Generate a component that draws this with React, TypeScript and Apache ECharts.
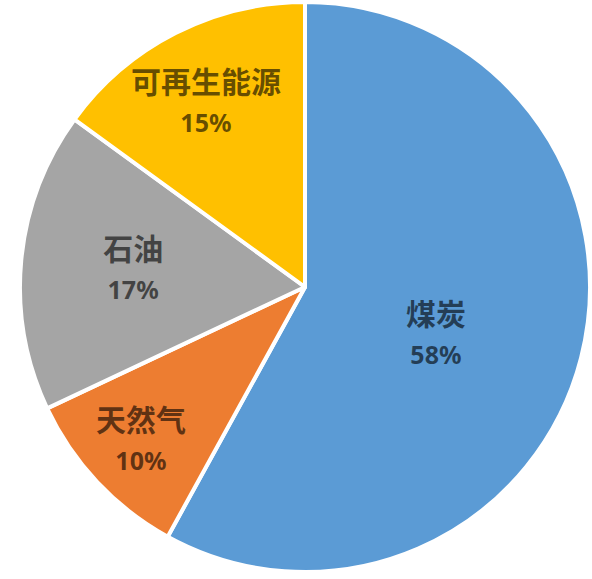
import React, { useEffect, useRef } from "react";
import * as echarts from "echarts";

// energy mix, clockwise from 12 o'clock
const names = ["煤炭", "天然气", "石油", "可再生能源"];
const shares = [58, 10, 17, 15];
const colors = ["#5B9BD5", "#ED7D31", "#A5A5A5", "#FFC000"];

// nudges from ECharts' default "inside" label spot, per slice
const labelNudge = [
    [-10, 10],
    [-58, 52],
    [-27, -5],
    [-33, -56],
];

const App: React.FC = () => {
    const ref = useRef<HTMLDivElement | null>(null);

    useEffect(() => {
        if (!ref.current) return;
        const inst = echarts.init(ref.current, undefined, { renderer: "svg" });

        inst.setOption({
            animation: false,
            backgroundColor: "#ffffff",
            series: [
                {
                    type: "pie",
                    center: [305, 287],
                    radius: [0, 285],
                    startAngle: 90,
                    clockwise: true,
                    avoidLabelOverlap: false,
                    itemStyle: { borderColor: "#ffffff", borderWidth: 4 },
                    label: {
                        show: true,
                        position: "inside",
                        formatter: "{n|{b}}\n{v|{c}%}",
                        rich: {
                            n: {
                                fontFamily: "Noto Sans CJK SC",
                                fontSize: 30,
                                fontWeight: "bold",
                                color: "rgba(0,0,0,0.6)",
                                lineHeight: 42,
                                align: "center",
                            },
                            v: {
                                fontFamily: "Noto Sans",
                                fontSize: 25,
                                fontWeight: "bold",
                                color: "rgba(0,0,0,0.6)",
                                lineHeight: 42,
                                align: "center",
                            },
                        },
                    },
                    labelLine: { show: false },
                    labelLayout: (p: any) => {
                        const n = labelNudge[p.dataIndex] || [0, 0];
                        return { dx: n[0], dy: n[1] };
                    },
                    emphasis: { disabled: true },
                    data: names.map((name, i) => ({
                        name,
                        value: shares[i],
                        itemStyle: { color: colors[i] },
                    })),
                },
            ],
        });

        return () => inst.dispose();
    }, []);

    return (
        <div
            ref={ref}
            style={{ position: "absolute", left: 0, top: 0, width: 592, height: 579 }}
        />
    );
};

export default App;
